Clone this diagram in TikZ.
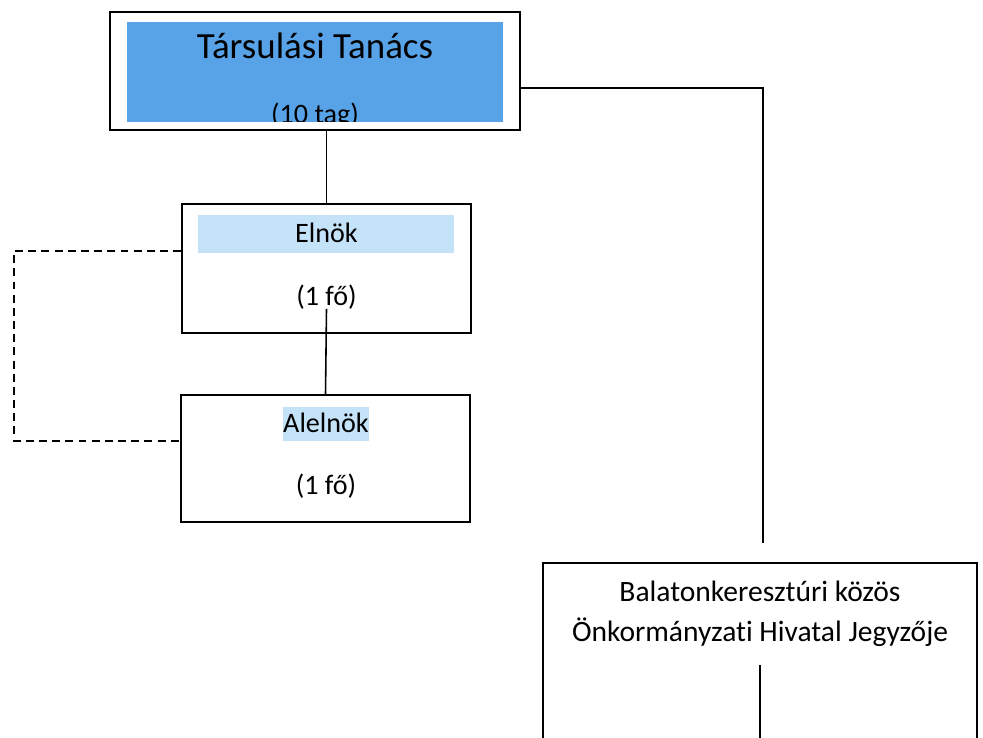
\documentclass[tikz,border=0pt]{standalone}
\usepackage{fontspec}
\setmainfont{Carlito}[Ligatures=NoCommon]
\usetikzlibrary{calc}

\definecolor{tanacsblue}{RGB}{88,163,232}
\definecolor{lightblue}{RGB}{196,226,248}

\tikzset{
  box/.style={draw, line width=1pt, inner sep=0pt},
  label/.style={inner sep=0pt, font=\fontsize{16}{22}\selectfont},
  conn/.style={line width=0.9pt},
}

\begin{document}
\begin{tikzpicture}[x=0.02cm, y=-0.02cm]
  \useasboundingbox (0,0) rectangle (983,737);

  % Tarsulasi Tanacs
  \fill[tanacsblue] (127,22) rectangle (503,122);
  \node[box, minimum width=410*0.02cm, minimum height=118*0.02cm] (tanacs) at (315,71) {};
  \node[label, font=\fontsize{21}{25}\selectfont] (tanacsnev) at (315,46) {Társulási Tanács};
  \begin{scope}
    \clip (127,22) rectangle (503,121);
    \node[label] (tanacstag) at (315,116) {(10 tag)};
  \end{scope}

  % Elnok
  \fill[lightblue] (198,215) rectangle (454,253);
  \node[box, minimum width=289*0.02cm, minimum height=129*0.02cm] (elnok) at (326.5,268.5) {};
  \node[label] (elnoknev) at (326.5,233) {Elnök};
  \node[label] (elnokfo) at (326.5,297) {(1 fő)};

  % Alelnok
  \fill[lightblue] (283,407) rectangle (369,441);
  \node[box, minimum width=289*0.02cm, minimum height=127*0.02cm] (alelnok) at (325.5,458.5) {};
  \node[label] (alelnoknev) at (326,423) {Alelnök};
  \node[label] (alelnokfo) at (326,486) {(1 fő)};

  % Jegyzo (cut by the page edge)
  \node[box, minimum width=434*0.02cm, minimum height=200*0.02cm] (jegyzo) at (760,663) {};
  \node[label, align=center, font=\fontsize{16.8}{22.5}\selectfont] (jegyzonev) at (760,614) {Balatonkeresztúri közös\\Önkormányzati Hivatal Jegyzője};

  % connectors
  \draw[conn] (elnok.north) -- (elnok.north |- tanacs.south);
  \draw[conn] ($(elnok.south)+(0,-25)$) -- (alelnok.north);

  \coordinate (sarok) at (763,88);
  \coordinate (jegyzovege) at (763,543);
  \draw[conn] (tanacs.east |- sarok) -- (sarok) -- (jegyzovege);
  \draw[conn] (jegyzo.center |- 0,665) -- (jegyzo.south);

  % dashed link
  \coordinate (bal1) at (14,251);
  \coordinate (bal2) at (14,441);
  \draw[conn, dash pattern=on 4.5pt off 3pt] (elnok.west |- bal1) -- (bal1) -- (bal2) -- (alelnok.west |- bal2);
\end{tikzpicture}
\end{document}
